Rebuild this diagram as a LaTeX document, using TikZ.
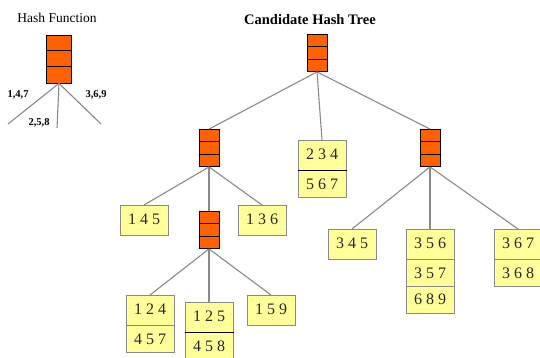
\documentclass[tikz,border=0pt]{standalone}
\usepackage{fontspec}
\setmainfont{Liberation Serif}
\usepackage{tikz}
\usetikzlibrary{shapes.multipart, calc}
\definecolor{hashorange}{HTML}{FF6000}
\definecolor{leafyellow}{HTML}{FFFF99}
\definecolor{linegray}{HTML}{8A8A8A}
\tikzstyle{branch}  = [linegray, line width=1.1pt]
\tikzstyle{hashbox} = [rectangle, draw=black, fill=hashorange, line width=0.8pt,
                       minimum width=20pt, minimum height=37pt, inner sep=0pt,
                       path picture={\foreach \f in {1,2}
                         \draw[line width=1pt] ($(path picture bounding box.north west)!\f/3!(path picture bounding box.south west)$)
                           -- ($(path picture bounding box.north east)!\f/3!(path picture bounding box.south east)$);}]
\tikzstyle{leaf}    = [rectangle split, rectangle split parts=1, draw=linegray, fill=leafyellow, line width=1pt,
                       minimum width=48pt, text height=11pt, text depth=3pt, inner ysep=7.5pt,
                       font=\fontsize{16}{16}\selectfont, text=black!85, anchor=north]
\tikzstyle{hlabel}  = [font=\bfseries\fontsize{10.5}{10.5}\selectfont, inner sep=0pt]
\tikzset{every node/.style={align=center}}

\begin{document}
\begin{tikzpicture}[x=1pt, y=-1pt]
    \useasboundingbox (0,0) rectangle (540,358);

    % hash function
    \node (hftitle) at (57, 18)  [font=\fontsize{13.5}{13.5}\selectfont] {Hash Function};
    \node (hf)      at (59, 59)  [hashbox, minimum width=25pt, minimum height=48pt] {};
    \coordinate (hfa) at (8, 124);
    \coordinate (hfb) at (57, 128);
    \coordinate (hfc) at (101, 124);
    \draw [branch] (hf.south) -- (hfa);
    \draw [branch] (hf.south) -- (hfb);
    \draw [branch] (hf.south) -- (hfc);
    \node (lab147) at (18, 95)  [hlabel] {1,4,7};
    \node (lab258) at (39, 123) [hlabel] {2,5,8};
    \node (lab369) at (96, 95)  [hlabel] {3,6,9};

    % candidate hash tree
    \node (title) at (310, 20)  [font=\bfseries\fontsize{14.5}{14.5}\selectfont] {Candidate Hash Tree};
    \node (root)  at (317, 53)  [hashbox] {};
    \node (hl)    at (209, 148) [hashbox] {};
    \node (hr)    at (430, 148) [hashbox] {};
    \node (hm)    at (209, 230) [hashbox] {};

    \node (l234) at (322, 140) [leaf, rectangle split parts=2] {2 3 4 \nodepart{two} 5 6 7};
    \node (l145) at (144, 205) [leaf] {1 4 5};
    \node (l136) at (262, 205) [leaf] {1 3 6};
    \node (l124) at (150, 295) [leaf, rectangle split parts=2] {1 2 4 \nodepart{two} 4 5 7};
    \node (l125) at (209, 302) [leaf, rectangle split parts=2] {1 2 5 \nodepart{two} 4 5 8};
    \node (l159) at (271, 295) [leaf] {1 5 9};
    \node (l345) at (352, 229) [leaf] {3 4 5};
    \node (l356) at (430, 229) [leaf, rectangle split parts=3] {3 5 6 \nodepart{two} 3 5 7 \nodepart{three} 6 8 9};
    \node (l367) at (518, 229) [leaf, rectangle split parts=2] {3 6 7 \nodepart{two} 3 6 8};

    \draw [line width=1.6pt] (l234.one split west) -- (l234.one split east);
    \draw [line width=1.6pt] (l125.one split west) -- (l125.one split east);

    \draw [branch] (root.south) -- (hl.north);
    \draw [branch] (root.south) -- (l234.north);
    \draw [branch] (root.south) -- (hr.north);
    \draw [branch] (hl.south) -- (l145.north);
    \draw [branch] (hl.south) -- (hm.north);
    \draw [branch] (hl.south) -- (l136.north);
    \draw [branch] (hm.south) -- (l124.north);
    \draw [branch] (hm.south) -- (l125.north);
    \draw [branch] (hm.south) -- (l159.north);
    \draw [branch] (hr.south) -- (l345.north);
    \draw [branch] (hr.south) -- (l356.north);
    \draw [branch] (hr.south) -- (l367.north);
\end{tikzpicture}
\end{document}
